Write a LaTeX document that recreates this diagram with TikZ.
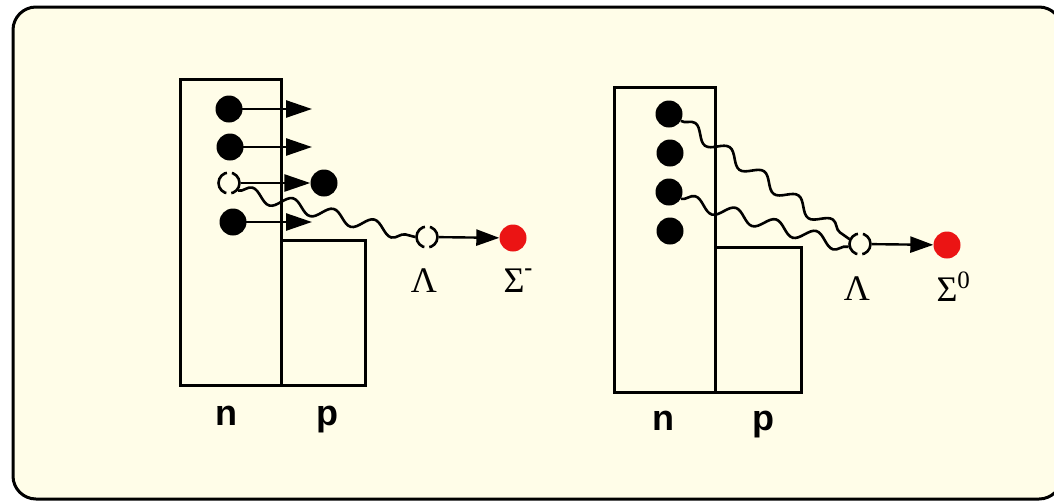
\documentclass[tikz,border=0pt]{standalone}
\usepackage{fontspec}
\setmainfont{Liberation Serif}
\newfontfamily\labelsans{Liberation Sans}
\usetikzlibrary{arrows.meta,decorations.pathmorphing}
\definecolor{cream}{RGB}{255,253,232}
\definecolor{sigred}{RGB}{235,20,20}
\begin{document}
\begin{tikzpicture}[x=1pt,y=-1pt,
 box/.style={draw=black, line width=3pt},
 ball/.style={circle, fill=black, minimum size=27pt, inner sep=0pt},
 redball/.style={circle, fill=sigred, minimum size=27pt, inner sep=0pt},
 hole/.style={circle, draw=black, line width=2.6pt, minimum size=21pt, inner sep=0pt, dash pattern=on 28pt off 5pt, dash phase=14.5pt},
 push/.style={line width=2.6pt, -{Triangle[length=26pt,width=17pt]}},
 pushsmall/.style={line width=2.4pt, -{Triangle[length=23pt,width=16pt]}},
 wave/.style={line width=2.6pt, decorate, decoration={snake, segment length=42pt, amplitude=6.5pt}},
 greek/.style={font=\fontsize{36}{36}\selectfont, anchor=base, inner sep=0pt},
 nuc/.style={font=\labelsans\bfseries\fontsize{36}{36}\selectfont, anchor=base, inner sep=0pt}
]
\useasboundingbox (0,0) rectangle (1054,501);
\begin{scope}
\clip (0,0) rectangle (1054,501);
\fill[white] (0,0) rectangle (1054,501);
\draw[line width=3pt, fill=cream, rounded corners=23pt] (13,7) rectangle (1062,499);
\end{scope}

% left nucleus
\draw[box] (180,79) rectangle (281,385);
\draw[box] (281,240) rectangle (365,385);
\node[ball] (a1) at (229,109) {};
\node[ball] (a2) at (230,147) {};
\node[hole] (a3) at (229,183) {};
\node[ball] (a4) at (233,222) {};
\node[ball] (a5) at (324,183) {};
\coordinate (e1) at (312,109);
\coordinate (e2) at (312,147);
\coordinate (e4) at (312,222);
\draw[push] (a1.center) -- (e1);
\draw[push] (a2.center) -- (e2);
\draw[push] (a3) -- (a5);
\draw[push] (a4.center) -- (e4);
\node[hole] (lamL) at (427,237) {};
\node[redball] (sigL) at (513,238) {};
\draw[wave] (a3.-40) -- (lamL.west);
\draw[pushsmall] (lamL) -- (sigL);
\node[greek] (lL) at (424,292) {Λ};
\node[greek] (sL) at (514,292) {Σ\rlap{\raisebox{17pt}{\fontsize{24}{24}\selectfont\bfseries -}}};
\node[nuc] (nL) at (226,425) {n};
\node[nuc] (pL) at (327,425) {p};

% right nucleus
\draw[box] (614,87) rectangle (715,392);
\draw[box] (715,247) rectangle (801,392);
\node[ball] (b1) at (669,114) {};
\node[ball] (b2) at (670,153) {};
\node[ball] (b3) at (669,192) {};
\node[ball] (b4) at (670,231) {};
\node[hole] (lamR) at (860,244) {};
\node[redball] (sigR) at (947,245) {};
\draw[wave] (b1.-30) -- (lamR.155);
\draw[wave] (b3.-30) -- (lamR.195);
\draw[pushsmall] (lamR) -- (sigR);
\node[greek] (lR) at (857,300) {Λ};
\node[greek] (sR) at (947,301) {Σ\rlap{\raisebox{13pt}{\fontsize{25}{25}\selectfont 0}}};
\node[nuc] (nR) at (663,430) {n};
\node[nuc] (pR) at (763,430) {p};
\end{tikzpicture}
\end{document}
